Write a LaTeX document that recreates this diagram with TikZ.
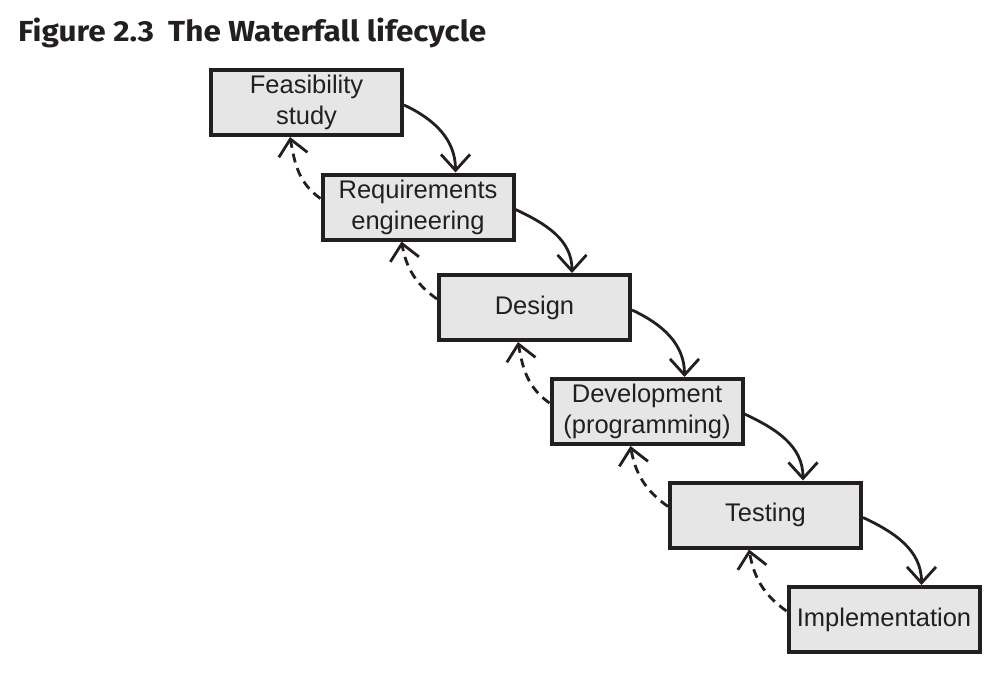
\documentclass[tikz,border=0pt]{standalone}
\usepackage{fontspec}
\setmainfont{Liberation Sans}
\newfontfamily\titlefont{Fira Sans}
\usetikzlibrary{arrows.meta}
\definecolor{ink}{HTML}{231F20}
\definecolor{boxfill}{HTML}{E6E6E6}
\begin{document}
\begin{tikzpicture}[x=1pt,y=-1pt,
  phase/.style={draw=ink, fill=boxfill, line width=4pt, minimum width=191pt,
    minimum height=65pt, inner sep=0pt, align=center, text=ink,
    font=\fontsize{25.5pt}{31pt}\selectfont},
  flow/.style={draw=ink, line width=2.8pt, -{Straight Barb[length=16pt,width=29pt]}},
  back/.style={flow, dash pattern=on 9pt off 6pt}]
\useasboundingbox (0,0) rectangle (1008,678);
\node[anchor=base west, text=ink, inner sep=0pt,
  font=\titlefont\bfseries\fontsize{29pt}{34pt}\selectfont] (title) at (18,41)
  {\scalebox{1.088}[1]{Figure 2.3\hspace{0.45em}The Waterfall lifecycle}};

\node[phase] (feas) at (306.5,102.5) {Feasibility\\study};
\node[phase] (req)  at (418,207)     {Requirements\\engineering};
\node[phase] (des)  at (534.5,307.5) {Design};
\node[phase] (dev)  at (647,411.5)   {Development\\(programming)};
\node[phase] (test) at (765.5,515)   {Testing};
\node[phase] (impl) at (884,619.5)   {Implementation};

% forward flow: right side of each phase down into the next
\foreach \a/\b in {feas/req, req/des, des/dev, dev/test, test/impl} {
  \draw[flow] ([yshift=-2.5pt]\a.east) to[out=-25,in=90] ([xshift=135pt]\b.north west);
}
% feedback: left side of each phase back up to the previous one
\foreach \a/\b in {req/feas, des/req, dev/des, test/dev, impl/test} {
  \draw[back] ([yshift=-26pt]\a.north west) to[out=145,in=-80] ([xshift=81pt]\b.south west);
}
\end{tikzpicture}
\end{document}
